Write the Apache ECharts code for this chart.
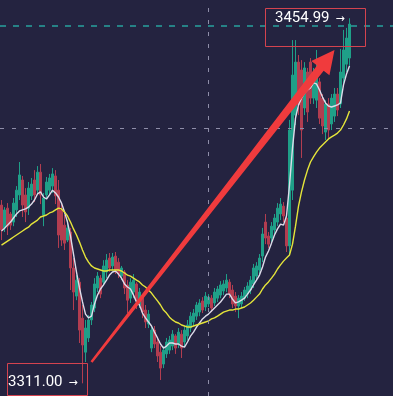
<!DOCTYPE html>
<html><head><meta charset="utf-8">
<script src="https://cdn.jsdelivr.net/npm/echarts@6/dist/echarts.min.js"></script>
<style>html,body{margin:0;padding:0;background:#242340;}#c{width:393px;height:396px;}</style>
</head><body><div id="c"></div>
<script>
// [open, close, low, high]
const candles = [
[3381.3,3371.5,3367.5,3383.3],[3372.3,3379.4,3370.7,3380.5],[3380.1,3373.0,3369.5,3382.1],[3377.8,3373.4,3371.5,3378.6],[3374.6,3382.1,3373.0,3384.1],
[3379.4,3387.2,3376.6,3388.8],[3385.3,3393.2,3383.3,3398.3],[3391.2,3381.3,3376.6,3392.8],[3385.3,3378.6,3374.6,3388.0],[3380.1,3388.0,3377.4,3390.4],
[3384.9,3389.6,3383.3,3392.0],[3391.2,3385.3,3382.5,3395.1],[3387.2,3394.3,3385.7,3396.7],[3394.3,3385.3,3381.7,3397.5],[3377.4,3384.1,3373.0,3386.1],
[3385.3,3390.4,3384.1,3392.4],[3387.2,3392.0,3385.7,3393.6],[3388.8,3393.6,3386.1,3395.9],[3392.8,3384.9,3381.7,3395.1],[3387.2,3369.5,3364.4,3391.2],
[3379.4,3367.5,3365.2,3382.1],[3373.4,3366.3,3363.6,3377.4],[3367.5,3372.3,3366.7,3375.4],[3370.7,3356.5,3347.8,3372.3],[3356.5,3347.0,3339.9,3360.4],
[3345.4,3351.7,3343.8,3353.7],[3350.9,3332.0,3326.9,3352.5],[3336.7,3326.1,3311.0,3341.9],[3323.3,3332.8,3319.4,3336.0],[3328.9,3336.0,3327.3,3337.9],
[3336.0,3341.9,3334.0,3343.1],[3340.7,3350.2,3339.1,3352.5],[3348.6,3353.3,3347.0,3354.9],[3352.5,3346.2,3344.6,3353.7],[3350.9,3357.3,3349.4,3359.6],
[3354.9,3359.6,3352.5,3362.0],[3360.4,3356.5,3354.9,3362.4],[3357.3,3360.8,3355.7,3362.4],[3361.2,3355.7,3354.1,3362.8],[3358.8,3354.1,3352.5,3360.4],
[3353.3,3356.5,3351.7,3357.3],[3354.9,3348.6,3346.2,3355.7],[3349.8,3343.8,3338.7,3351.7],[3344.6,3350.9,3342.7,3352.5],[3347.0,3351.7,3344.6,3354.1],
[3350.2,3343.8,3340.3,3350.9],[3341.9,3347.0,3340.7,3348.6],[3345.4,3339.1,3336.7,3346.2],[3339.9,3335.2,3332.8,3341.9],[3334.4,3338.3,3332.8,3339.9],
[3324.9,3332.0,3323.3,3333.6],[3332.0,3326.5,3324.9,3333.6],[3327.3,3321.8,3319.4,3328.9],[3323.3,3317.0,3312.3,3325.7],[3318.6,3324.1,3317.0,3325.7],
[3322.6,3327.3,3321.0,3328.9],[3324.1,3328.1,3322.6,3329.7],[3325.7,3330.4,3324.1,3332.0],[3329.7,3324.9,3322.6,3330.4],[3326.5,3331.2,3324.9,3332.8],
[3330.4,3324.9,3321.0,3332.0],[3327.3,3332.0,3325.7,3333.6],[3329.7,3334.0,3328.1,3336.0],[3332.8,3337.5,3331.2,3339.1],[3335.2,3338.7,3333.6,3340.3],
[3337.5,3341.9,3336.0,3343.1],[3339.1,3342.7,3337.5,3344.2],[3343.5,3339.9,3338.7,3345.0],[3341.1,3345.4,3339.5,3347.0],[3342.3,3345.0,3341.1,3346.2],
[3344.6,3340.7,3339.1,3345.8],[3342.7,3347.0,3341.5,3348.6],[3344.6,3348.2,3343.1,3349.4],[3345.8,3349.8,3344.6,3351.3],[3347.4,3350.2,3345.8,3351.7],
[3348.6,3351.7,3347.0,3354.1],[3350.9,3346.2,3344.6,3352.1],[3347.8,3342.3,3340.7,3349.8],[3345.4,3341.5,3339.1,3347.0],[3341.5,3344.6,3336.7,3345.8],
[3342.3,3345.4,3340.7,3347.0],[3344.6,3347.8,3343.5,3349.0],[3346.2,3349.4,3344.6,3350.9],[3347.8,3351.7,3346.2,3353.3],[3350.2,3356.5,3348.6,3358.1],
[3353.3,3357.3,3351.7,3358.8],[3355.7,3360.4,3354.1,3362.0],[3361.2,3369.9,3358.8,3372.3],[3374.6,3368.3,3365.9,3377.8],[3369.1,3365.9,3364.4,3370.7],
[3368.3,3373.0,3366.7,3374.6],[3371.5,3376.2,3369.9,3377.8],[3374.6,3380.1,3373.0,3382.1],[3377.8,3381.7,3375.4,3384.1],[3380.9,3377.0,3374.6,3382.5],
[3376.2,3365.2,3362.8,3377.8],[3365.2,3410.9,3361.2,3414.9],[3387.2,3432.6,3383.3,3446.4],[3416.8,3437.7,3412.9,3446.4],[3437.7,3420.8,3416.8,3440.5],
[3434.6,3410.9,3399.9,3438.5],[3419.6,3435.4,3416.8,3437.7],[3433.8,3418.0,3414.1,3435.4],[3437.7,3423.5,3421.2,3439.3],[3423.5,3432.6,3421.2,3435.4],
[3422.7,3433.8,3419.6,3442.5],[3429.9,3415.6,3413.3,3431.4],[3423.5,3412.5,3409.3,3425.1],[3410.1,3421.2,3407.0,3422.7],[3421.2,3410.9,3407.8,3423.5],
[3413.3,3423.5,3410.9,3425.1],[3416.4,3425.1,3414.1,3427.5],[3425.1,3418.8,3416.4,3427.5],[3421.2,3433.8,3419.6,3442.9],[3431.4,3442.5,3429.1,3450.4],
[3436.9,3447.2,3433.8,3451.2],[3439.3,3452.7,3436.2,3454.99]
];
const maFast = [
3371.1,3372.2,3373.4,3374.6,3376.2,3377.8,3379.0,3379.4,3379.8,3380.5,
3381.7,3383.3,3385.7,3386.5,3384.5,3383.7,3385.3,3387.2,3386.1,3384.5,
3382.1,3378.6,3374.6,3369.1,3362.0,3354.9,3348.6,3343.1,3338.3,3336.8,
3337.5,3342.3,3345.8,3348.2,3349.8,3351.7,3353.7,3354.9,3355.3,3354.1,
3352.5,3350.2,3349.0,3348.2,3345.8,3343.1,3341.9,3338.7,3336.8,3335.2,
3333.6,3331.2,3328.9,3326.5,3324.9,3325.7,3326.9,3326.9,3326.5,3326.5,
3325.7,3325.3,3327.3,3329.6,3331.2,3333.2,3334.8,3336.4,3337.5,3338.3,
3339.5,3340.7,3341.9,3343.1,3344.6,3346.2,3346.2,3344.2,3342.7,3343.1,
3343.8,3344.6,3346.2,3347.8,3349.8,3351.7,3353.7,3356.9,3360.8,3363.2,
3366.3,3369.5,3371.9,3373.8,3373.4,3377.0,3389.2,3403.8,3415.6,3420.8,
3423.5,3425.5,3426.7,3427.5,3429.5,3429.1,3426.7,3423.9,3421.6,3420.4,
3420.0,3420.4,3420.8,3421.6,3428.7,3433.0,3436.2
];
const maSlow = [
3365.5,3366.3,3367.1,3367.9,3368.7,3369.5,3370.3,3371.1,3371.9,3372.6,
3373.8,3374.6,3375.4,3376.6,3377.0,3377.4,3378.2,3378.6,3379.4,3380.1,
3379.8,3378.6,3377.0,3374.6,3371.9,3369.5,3366.7,3363.6,3360.8,3358.8,
3357.3,3356.5,3356.1,3355.7,3355.3,3355.3,3355.7,3355.7,3355.7,3355.7,
3355.3,3354.5,3353.7,3353.3,3352.5,3351.7,3351.0,3349.8,3349.0,3347.8,
3346.6,3345.0,3343.5,3341.9,3339.9,3338.7,3337.1,3336.0,3335.2,3334.8,
3334.0,3333.6,3333.2,3333.2,3333.6,3334.0,3334.4,3334.8,3335.2,3335.6,
3336.4,3336.8,3337.5,3338.3,3339.1,3339.5,3339.9,3339.9,3340.3,3340.3,
3340.7,3341.1,3341.9,3342.7,3343.8,3345.0,3346.2,3348.2,3349.8,3351.0,
3352.5,3354.1,3356.1,3357.7,3359.2,3360.4,3361.6,3365.9,3373.0,3380.9,
3386.5,3391.2,3395.1,3398.3,3400.3,3402.2,3403.8,3405.0,3406.2,3407.4,
3408.2,3408.9,3409.7,3410.9,3412.9,3415.3,3418.4
];
const slotCount = 131;
const priceLines = [3451.9, 3411.7];
const crossIndex = 69;
const arrowFrom = [30, 3319.4];
const arrowTo = [111, 3442.5];
const yMin = 3306, yMax = 3462.2;

const categories = Array.from({length: slotCount}, (_, i) => String(i));
const UP = '#1f9f88', DOWN = '#b23d50';

const chart = echarts.init(document.getElementById('c'), null, {renderer: 'canvas'});
chart.setOption({
  animation: false,
  backgroundColor: '#242340',
  grid: {left: -1, right: 0, top: 0, bottom: 0},
  xAxis: {type: 'category', data: categories, show: false, boundaryGap: true},
  yAxis: {type: 'value', min: yMin, max: yMax, show: false},
  series: [
    {
      type: 'candlestick', data: candles, barWidth: 1.6,
      itemStyle: {color: UP, color0: DOWN, borderColor: UP, borderColor0: DOWN, borderWidth: 1},
      markLine: {
        silent: true, symbol: 'none', label: {show: false}, animation: false,
        data: [
          {yAxis: priceLines[0], lineStyle: {color: '#27a29d', type: [6, 7], width: 1.6}},
          {yAxis: priceLines[1], lineStyle: {color: '#8e8da8', type: [4, 8], width: 1}},
          {xAxis: crossIndex, lineStyle: {color: '#8e8da8', type: [4, 8], width: 1}}
        ]
      }
    },
    {type: 'line', data: maFast, symbol: 'none', z: 3, lineStyle: {color: '#dddcea', width: 1.4}},
    {type: 'line', data: maSlow, symbol: 'none', z: 3, lineStyle: {color: '#e5e53a', width: 1.4}}
  ]
});

const S = chart.convertToPixel({seriesIndex: 0}, arrowFrom);
const T = chart.convertToPixel({seriesIndex: 0}, arrowTo);
const dx = T[0] - S[0], dy = T[1] - S[1];
const len = Math.hypot(dx, dy);
const u = [dx / len, dy / len], n = [-u[1], u[0]];
const L = 23, H = 11.5, w0 = 1.2, w1 = 4.2;
const B = [T[0] - u[0] * L, T[1] - u[1] * L];
const pt = (p, k) => [p[0] + n[0] * k, p[1] + n[1] * k];
const arrowPts = [pt(S, w0), pt(B, w1), pt(B, H), T, pt(B, -H), pt(B, -w1), pt(S, -w0)];

const hi = Math.max(...candles.map(c => c[3]));
const lo = Math.min(...candles.map(c => c[2]));
const rich = {
  a: {fontFamily: 'Roboto', fontSize: 15, fill: '#ffffff', color: '#ffffff'},
  b: {fontFamily: 'DejaVu Sans', fontSize: 11, fill: '#ffffff', color: '#ffffff', padding: [2, 0, 0, 6]}
};
chart.setOption({
  graphic: [
    {type: 'polygon', shape: {points: arrowPts}, style: {fill: '#f03b3d'}, z: 10},
    {type: 'rect', shape: {x: 265.5, y: 8.5, width: 100, height: 38}, style: {fill: 'none', stroke: '#d4434f', lineWidth: 1}, z: 11},
    {type: 'text', x: 275, y: 18, style: {text: '{a|' + hi.toFixed(2) + '}{b|→}', rich: rich, fill: '#ffffff', verticalAlign: 'middle'}, z: 12},
    {type: 'rect', shape: {x: 7.5, y: 363.5, width: 80, height: 32}, style: {fill: 'none', stroke: '#d4434f', lineWidth: 1}, z: 11},
    {type: 'text', x: 8, y: 382, style: {text: '{a|' + lo.toFixed(2) + '}{b|→}', rich: rich, fill: '#ffffff', verticalAlign: 'middle'}, z: 12}
  ]
});
</script>
</body></html>
